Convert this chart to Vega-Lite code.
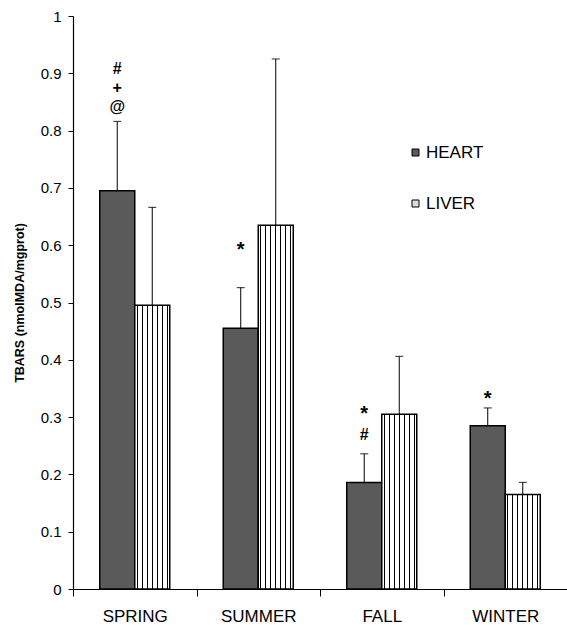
{
  "$schema": "https://vega.github.io/schema/vega-lite/v6.json",
  "width": 494,
  "height": 573,
  "autosize": {"type": "none"},
  "padding": {"left": 73, "top": 16, "right": 0, "bottom": 36},
  "background": "white",
  "config": {
    "view": {"stroke": null},
    "font": "Liberation Sans",
    "axis": {"domainColor": "black", "tickColor": "black", "labelColor": "black", "titleColor": "black", "grid": false, "labelFont": "Liberation Sans", "titleFont": "Liberation Sans"},
    "legend": {"labelFont": "Liberation Sans"}
  },
  "datasets": {
    "bars": [
      {"season": "SPRING", "organ": "HEART", "value": 0.695, "err": 0.816},
      {"season": "SPRING", "organ": "LIVER", "value": 0.495, "err": 0.666},
      {"season": "SUMMER", "organ": "HEART", "value": 0.455, "err": 0.526},
      {"season": "SUMMER", "organ": "LIVER", "value": 0.635, "err": 0.925},
      {"season": "FALL", "organ": "HEART", "value": 0.186, "err": 0.236},
      {"season": "FALL", "organ": "LIVER", "value": 0.305, "err": 0.406},
      {"season": "WINTER", "organ": "HEART", "value": 0.285, "err": 0.316},
      {"season": "WINTER", "organ": "LIVER", "value": 0.165, "err": 0.186}
    ],
    "notes": [
      {"season": "SPRING", "organ": "HEART", "pos": 0.907, "label": "#"},
      {"season": "SPRING", "organ": "HEART", "pos": 0.874, "label": "+"},
      {"season": "SPRING", "organ": "HEART", "pos": 0.841, "label": "@"},
      {"season": "SUMMER", "organ": "HEART", "pos": 0.591, "label": "*"},
      {"season": "FALL", "organ": "HEART", "pos": 0.305, "label": "*"},
      {"season": "FALL", "organ": "HEART", "pos": 0.268, "label": "#"},
      {"season": "WINTER", "organ": "HEART", "pos": 0.332, "label": "*"}
    ]
  },
  "encoding": {
    "x": {
      "field": "season", "type": "nominal",
      "sort": ["SPRING", "SUMMER", "FALL", "WINTER"],
      "scale": {"paddingInner": 0, "paddingOuter": 0},
      "axis": {"title": null, "labelAngle": 0, "tickBand": "extent", "tickSize": 7, "labelPadding": 12, "labelFontSize": 17, "domainWidth": 1.2}
    },
    "xOffset": {
      "field": "organ", "type": "nominal",
      "sort": ["HEART", "LIVER"],
      "scale": {"domain": ["HEART", "LIVER"], "paddingInner": 0, "paddingOuter": 0.764}
    }
  },
  "layer": [
    {
      "data": {"name": "bars"},
      "transform": [{"filter": "datum.organ === 'HEART'"}],
      "mark": {"type": "bar", "stroke": "black", "strokeWidth": 1.5},
      "encoding": {
        "y": {
          "field": "value", "type": "quantitative",
          "scale": {"domain": [0, 1], "nice": false},
          "axis": {"title": "TBARS (nmolMDA/mgprot)", "titleFontWeight": "bold", "titleFontSize": 12.5, "titlePadding": 14, "values": [0, 0.1, 0.2, 0.3, 0.4, 0.5, 0.6, 0.7, 0.8, 0.9, 1], "format": ".1~f", "labelFontSize": 15, "tickSize": 5, "labelPadding": 7, "domainWidth": 1.2}
        },
        "fill": {
          "field": "organ", "type": "nominal",
          "scale": {"domain": ["HEART", "LIVER"], "range": ["#5a5a5a", "#dddddd"]},
          "legend": {"title": null, "orient": "none", "legendX": 334, "legendY": 128, "symbolType": "square", "symbolSize": 49, "symbolStrokeColor": "black", "symbolStrokeWidth": 1, "labelFontSize": 17, "labelColor": "black", "labelOffset": 2, "rowPadding": 33, "padding": 0}
        }
      }
    },
    {
      "data": {"name": "bars"},
      "transform": [{"filter": "datum.organ === 'LIVER'"}],
      "mark": {
        "type": "bar", "stroke": "black", "strokeWidth": 1.5,
        "fill": {
          "gradient": "linear", "x1": 0, "y1": 0, "x2": 1, "y2": 0,
          "stops": [
            {"offset": 0, "color": "white"},
            {"offset": 0.051, "color": "white"}, {"offset": 0.051, "color": "black"}, {"offset": 0.091, "color": "black"}, {"offset": 0.091, "color": "white"},
            {"offset": 0.194, "color": "white"}, {"offset": 0.194, "color": "black"}, {"offset": 0.234, "color": "black"}, {"offset": 0.234, "color": "white"},
            {"offset": 0.337, "color": "white"}, {"offset": 0.337, "color": "black"}, {"offset": 0.377, "color": "black"}, {"offset": 0.377, "color": "white"},
            {"offset": 0.48, "color": "white"}, {"offset": 0.48, "color": "black"}, {"offset": 0.52, "color": "black"}, {"offset": 0.52, "color": "white"},
            {"offset": 0.623, "color": "white"}, {"offset": 0.623, "color": "black"}, {"offset": 0.663, "color": "black"}, {"offset": 0.663, "color": "white"},
            {"offset": 0.766, "color": "white"}, {"offset": 0.766, "color": "black"}, {"offset": 0.806, "color": "black"}, {"offset": 0.806, "color": "white"},
            {"offset": 0.909, "color": "white"}, {"offset": 0.909, "color": "black"}, {"offset": 0.949, "color": "black"}, {"offset": 0.949, "color": "white"},
            {"offset": 1, "color": "white"}
          ]
        }
      },
      "encoding": {
        "y": {"field": "value", "type": "quantitative"}
      }
    },
    {
      "data": {"name": "bars"},
      "mark": {"type": "rule", "color": "black", "strokeWidth": 1},
      "encoding": {
        "y": {"field": "value", "type": "quantitative"},
        "y2": {"field": "err"}
      }
    },
    {
      "data": {"name": "bars"},
      "mark": {"type": "tick", "color": "black", "size": 8, "thickness": 1.2, "orient": "horizontal"},
      "encoding": {
        "y": {"field": "err", "type": "quantitative"}
      }
    },
    {
      "data": {"name": "notes"},
      "transform": [{"filter": "datum.label !== '*'"}],
      "mark": {"type": "text", "color": "black", "fontSize": 16, "fontWeight": "bold", "baseline": "middle", "align": "center", "font": "Liberation Sans"},
      "encoding": {
        "y": {"field": "pos", "type": "quantitative"},
        "text": {"field": "label"}
      }
    },
    {
      "data": {"name": "notes"},
      "transform": [{"filter": "datum.label === '*'"}],
      "mark": {"type": "text", "color": "black", "fontSize": 20, "fontWeight": "bold", "baseline": "middle", "align": "center", "font": "Liberation Sans"},
      "encoding": {
        "y": {"field": "pos", "type": "quantitative"},
        "text": {"field": "label"}
      }
    }
  ]
}
